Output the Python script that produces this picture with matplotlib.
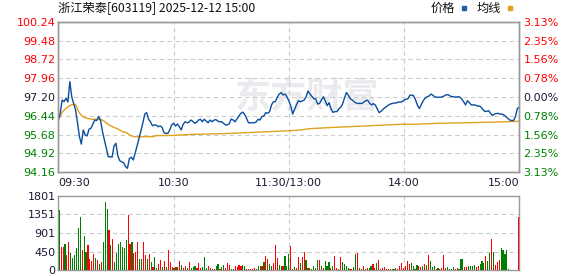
import matplotlib
matplotlib.use("Agg")
import matplotlib.pyplot as plt
from matplotlib.patches import Rectangle

plt.rcParams['font.family'] = ['DejaVu Sans', 'Noto Sans CJK SC']

# ---------------------------
# data
# ---------------------------
title = "浙江荣泰[603119] 2025-12-12 15:00"
prev_close = 97.20
price_ticks = [94.16, 94.92, 95.68, 96.44, 97.20, 97.96, 98.72, 99.48, 100.24]
vol_ticks = [0, 450, 901, 1351, 1801]
time_ticks = [0, 60, 120, 180, 240]
time_labels = ["09:30", "10:30", "11:30/13:00", "14:00", "15:00"]

# one value per minute, 09:30 .. 11:30, 13:01 .. 15:00
price = [
    96.27, 96.54, 97.08, 97.01, 97.15, 97.00, 97.82, 97.21, 96.94, 96.67,
    96.16, 95.60, 95.30, 95.87, 95.67, 95.63, 95.90, 95.94, 96.11, 96.27,
    96.25, 96.41, 96.25, 95.80, 95.47, 95.13, 94.79, 94.79, 94.77, 95.22,
    95.33, 94.82, 94.63, 94.58, 94.55, 94.39, 94.32, 94.72, 94.77, 94.66,
    94.93, 95.22, 95.53, 95.84, 96.14, 96.51, 96.57, 96.30, 96.20, 96.04,
    96.07, 96.07, 96.00, 96.03, 95.98, 95.76, 95.73, 95.73, 95.87, 96.07,
    96.14,
    96.03, 96.11, 96.00, 95.87, 96.10, 96.20, 96.16, 96.18, 96.27, 96.22,
    96.14, 96.18, 96.27, 96.30, 96.20, 96.30, 96.23, 96.16, 96.27, 96.20,
    96.26, 96.29, 96.23, 96.20, 96.20, 96.14, 96.07, 96.08, 96.12, 96.31,
    96.27, 96.20, 96.31, 96.43, 96.54, 96.59, 96.50, 96.34, 96.16, 96.16,
    96.16, 96.16, 96.19, 96.30, 96.27, 96.41, 96.43, 96.57, 96.54, 96.61,
    96.88, 97.01, 97.01, 97.19, 97.32, 97.38, 97.28, 97.32, 97.21, 97.05,
    96.84, 96.51, 96.70, 96.89, 97.05, 97.01, 97.04, 97.08, 97.21, 97.44,
    97.32, 97.23, 97.13, 97.13, 96.92, 96.94, 97.08, 97.21, 97.04, 96.85,
    96.97, 96.72, 96.58, 96.61, 96.61, 96.72, 96.78, 96.92, 97.16, 97.38,
    97.27, 97.13, 97.08, 97.01, 96.96, 96.94, 96.94, 96.94, 96.99, 97.05,
    97.07, 96.96, 96.88, 96.93, 96.88, 96.73, 96.57, 96.62, 96.70, 96.77,
    96.82, 96.88, 96.92, 96.94, 96.96, 96.96, 97.00, 96.99, 97.01, 97.08,
    97.11, 97.13, 97.27, 97.28, 97.25, 97.08, 96.86, 96.73, 96.90, 97.05,
    97.16, 97.21, 97.24, 97.32, 97.27, 97.21, 97.19, 97.19, 97.19, 97.21,
    97.25, 97.29, 97.29, 97.24, 97.21, 97.21, 97.19, 97.21, 97.20, 97.12,
    97.01, 96.88, 97.05, 96.97, 96.88, 96.88, 96.88, 96.84, 96.84, 96.80,
    96.70, 96.62, 96.62, 96.65, 96.54, 96.45, 96.51, 96.53, 96.54, 96.51,
    96.51, 96.47, 96.41, 96.34, 96.27, 96.25, 96.25, 96.41, 96.74, 96.78,
]

# average price line, read at its turning points
avg_minutes = [0, 2.3, 4, 5.7, 7.5, 8.8, 9.5, 10.6, 11.8, 13.5, 15.3, 17.9,
               22.2, 23.4, 24.8, 26.5, 28.6, 30.8, 33.4, 35.5, 37.3, 39.5,
               42, 45.6, 49.9, 50.7, 60.3, 69.5, 89.4, 109.3, 121, 126.3,
               130.6, 140, 151.3, 167.8, 179, 186, 198, 212.8, 232.7, 240]
avg_price = [96.27, 96.61, 96.74, 96.84, 96.90, 96.90, 96.81, 96.61, 96.47,
             96.38, 96.33, 96.30, 96.29, 96.25, 96.16, 96.07, 95.98, 95.92,
             95.80, 95.76, 95.65, 95.60, 95.59, 95.60, 95.60, 95.64, 95.65,
             95.69, 95.73, 95.80, 95.84, 95.87, 95.92, 95.96, 96.00, 96.06,
             96.10, 96.10, 96.14, 96.16, 96.20, 96.22]

volume = [
    1460, 551, 551, 633, 365, 681, 405, 284, 365, 527, 1014, 1281, 487, 827,
    430, 608, 268, 227, 389, 284, 243, 146, 203, 673, 1654, 1476, 973, 608,
    746, 203, 422, 633, 673, 551, 527, 730, 1338, 633, 673, 405, 430, 673,
    268, 268, 673, 365, 268, 389, 203, 65, 308, 41, 146, 243, 65, 219, 65,
    487, 203, 65, 41, 81, 65,
    225, 128, 52, 105, 52, 195, 52, 75, 105, 52, 180, 52, 75, 315, 52, 90,
    52, 30, 15, 90, 150, 30, 75, 128, 52, 180, 128, 30, 30, 90, 75, 128, 90,
    128, 105, 30, 30, 30, 30, 52, 30, 90, 90, 90, 203, 330, 278, 150, 90,
    180, 615, 300, 128, 105, 90, 330, 105, 390, 578, 30, 75, 52, 315, 165,
    315, 428, 255, 52, 52, 30, 105, 52, 255, 255, 105, 52, 225, 105, 203,
    52, 90, 330, 52, 30, 315, 203, 150, 105,
    45, 30, 30, 75, 390, 405, 52, 30, 90, 30, 52, 52, 90, 143, 52, 180, 248,
    30, 52, 75, 30, 30, 30, 30, 30, 52, 30, 90, 180, 52, 90, 225, 150, 180,
    105, 30, 128, 90, 75, 105, 150, 128, 360, 225, 75, 90, 15, 52, 30, 52,
    360, 52, 75, 30, 30, 75, 30, 52, 30, 278, 278, 75, 75, 105, 105, 105,
    128, 75, 105, 150, 225, 180, 330, 225, 405, 750, 450, 128, 203, 255,
    525, 495, 390, 495, 30,
    0, 0, 0, 0, 1297,
]
# r = up minute, g = down minute
vol_side = list(
    "grrgrrgggggg" "rggrrrrgrgrg" "ggrgrggggggg" "rrgrrrggrrgr"
    "grggrrgrgrrr" "grg"
    "rgrrgrgggrrr" "gggrrgrggrgg" "rrrggrrrrggr" "rrrrgggrgrrg"
    "grrrggrgggrr" "grrgrrgrgggg" "grgrgggrgrrg" "rggg"
    "grrggrgrrgrg" "grrgrrrrrrgr" "ggrrrrrrrggg" "grrgrgrgggrg"
    "rrrrggggrrgg" "grrggggrrggg" "rggrgrrrgggg" "g"
    "ggggr"
)

# ---------------------------
# style
# ---------------------------
RED = "#ff0000"
GREEN = "#008000"
DARK = "#1a1a33"
GRID = "#cccccc"
SPINE = "#999999"
BLUE = "#0a4e9e"
ORANGE = "#e0a11c"

W, H = 578, 276
fig = plt.figure(figsize=(W / 100, H / 100), dpi=100)
ax = fig.add_axes([58.3 / W, 1 - 172.3 / H, 461 / W, 150.6 / H])
axv = fig.add_axes([58.3 / W, 1 - 270 / H, 461 / W, 74 / H])

# ---------------------------
# price panel
# ---------------------------
minutes = list(range(len(price)))
ax.text(0.54, 0.5, "东方财富", transform=ax.transAxes, fontsize=26,
        fontweight="bold", color="#ebebef", ha="center", va="center",
        family=["Noto Sans CJK SC"], zorder=0)
ax.plot(avg_minutes, avg_price, color=ORANGE, lw=1.0, zorder=3)
ax.plot(minutes, price, color=BLUE, lw=1.0, zorder=4)
ax.set_xlim(0, 240)
ax.set_ylim(price_ticks[0], price_ticks[-1])
ax.set_axisbelow(True)
ax.set_yticks(price_ticks)
ax.set_yticklabels([f"{t:.2f}" for t in price_ticks])
ax.set_xticks(time_ticks)
ax.set_xticklabels(time_labels)
ax.grid(True, color=GRID, ls=(0, (4, 3)), lw=0.8)
ax.tick_params(length=0, labelsize=8, pad=2, colors=DARK)
ax.tick_params(axis="x", pad=4)
xl = ax.get_xticklabels()
xl[0].set_ha("left")
xl[-1].set_ha("right")

def side_color(t):
    if abs(t - prev_close) < 1e-6:
        return DARK
    return RED if t > prev_close else GREEN

for lab, t in zip(ax.get_yticklabels(), price_ticks):
    lab.set_color(side_color(t))

ax2 = ax.twinx()
ax2.set_ylim(price_ticks[0], price_ticks[-1])
ax2.set_yticks(price_ticks)
ax2.set_yticklabels([f"{abs(t / prev_close - 1) * 100:.2f}%" for t in price_ticks])
ax2.tick_params(length=0, labelsize=8, pad=3)
for lab, t in zip(ax2.get_yticklabels(), price_ticks):
    lab.set_color(side_color(t))

for a in (ax, ax2):
    for sp in a.spines.values():
        sp.set_color(SPINE)
        sp.set_linewidth(1.0)

# ---------------------------
# volume panel
# ---------------------------
bar_colors = [RED if s == "r" else GREEN for s in vol_side]
bars = axv.bar(range(len(volume)), volume, width=0.6, color=bar_colors,
               linewidth=0, zorder=3)
for b in bars:
    b.set_antialiased(False)
axv.set_xlim(-0.5, 240.5)
axv.set_ylim(vol_ticks[0], vol_ticks[-1])
axv.set_axisbelow(True)
axv.set_yticks(vol_ticks)
axv.set_yticklabels([str(v) for v in vol_ticks])
axv.set_xticks([60, 120, 180])
axv.set_xticklabels([])
axv.grid(True, color=GRID, ls=(0, (4, 3)), lw=0.8)
axv.tick_params(length=0, labelsize=8, pad=2, colors=DARK)
for sp in axv.spines.values():
    sp.set_color(SPINE)
    sp.set_linewidth(1.0)

# ---------------------------
# title and legend
# ---------------------------
fig.text(58.3 / W, 1 - 8.5 / H, title, fontsize=8.8, va="center", ha="left",
         color="#111111", family=["Noto Sans CJK SC", "DejaVu Sans"])
fig.text(431 / W, 1 - 8.5 / H, "价格", fontsize=8.8, va="center", ha="left",
         color="#111111", family=["Noto Sans CJK SC"])
fig.patches.append(Rectangle((462 / W, 1 - 9.5 / H), 4 / W, 3 / H,
                             transform=fig.transFigure, color="#1e5ba8"))
fig.text(477 / W, 1 - 8.5 / H, "均线", fontsize=8.8, va="center", ha="left",
         color="#111111", family=["Noto Sans CJK SC"])
fig.patches.append(Rectangle((508 / W, 1 - 9.5 / H), 4 / W, 3 / H,
                             transform=fig.transFigure, color=ORANGE))

fig.savefig("out.png", dpi=100)
